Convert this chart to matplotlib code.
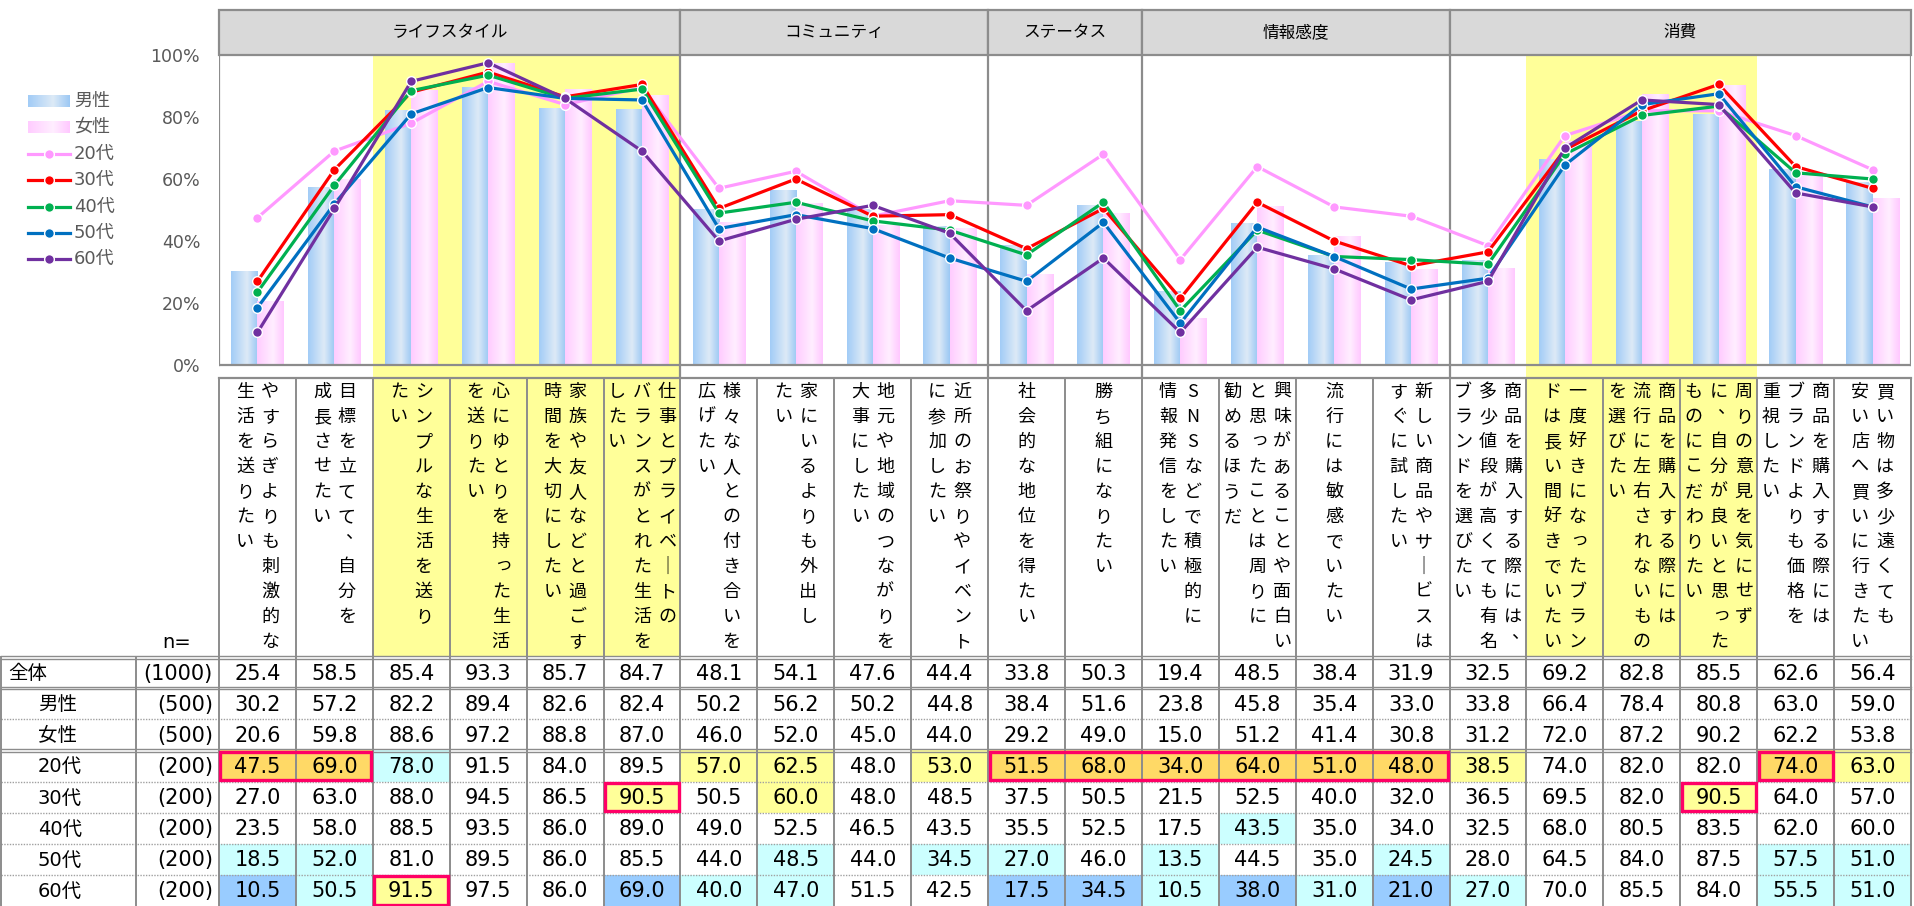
import numpy as np
import matplotlib
matplotlib.use("Agg")
import matplotlib.pyplot as plt
from matplotlib.patches import Rectangle
from matplotlib.colors import LinearSegmentedColormap

plt.rcParams['font.family'] = ['DejaVu Sans', 'Noto Sans CJK JP']
JP = ['Noto Sans CJK JP', 'DejaVu Sans']

# ---------------- data ----------------
groups = ["ライフスタイル", "コミュニティ", "ステータス", "情報感度", "消費"]
group_sizes = [6, 4, 2, 4, 6]

# vertical item labels: text columns listed right-to-left
item_labels = [
    ["やすらぎよりも刺激的な", "生活を送りたい"],
    ["目標を立てて、自分を", "成長させたい"],
    ["シンプルな生活を送り", "たい"],
    ["心にゆとりを持った生活", "を送りたい"],
    ["家族や友人などと過ごす", "時間を大切にしたい"],
    ["仕事とプライベートの", "バランスがとれた生活を", "したい"],
    ["様々な人との付き合いを", "広げたい"],
    ["家にいるよりも外出し", "たい"],
    ["地元や地域のつながりを", "大事にしたい"],
    ["近所のお祭りやイベント", "に参加したい"],
    ["社会的な地位を得たい"],
    ["勝ち組になりたい"],
    ["SNSなどで積極的に", "情報発信をしたい"],
    ["興味があることや面白い", "と思ったことは周りに", "勧めるほうだ"],
    ["流行には敏感でいたい"],
    ["新しい商品やサービスは", "すぐに試したい"],
    ["商品を購入する際には、", "多少値段が高くても有名", "ブランドを選びたい"],
    ["一度好きになったブラン", "ドは長い間好きでいたい"],
    ["商品を購入する際には", "流行に左右されないもの", "を選びたい"],
    ["周りの意見を気にせず", "に、自分が良いと思った", "ものにこだわりたい"],
    ["商品を購入する際には", "ブランドよりも価格を", "重視したい"],
    ["買い物は多少遠くても", "安い店へ買いに行きたい"],
]
highlight_items = [2, 3, 4, 5, 17, 18, 19]

row_names = ["全体", "男性", "女性", "20代", "30代", "40代", "50代", "60代"]
row_n = [1000, 500, 500, 200, 200, 200, 200, 200]

total = [25.4, 58.5, 85.4, 93.3, 85.7, 84.7, 48.1, 54.1, 47.6, 44.4, 33.8, 50.3,
         19.4, 48.5, 38.4, 31.9, 32.5, 69.2, 82.8, 85.5, 62.6, 56.4]
male = [30.2, 57.2, 82.2, 89.4, 82.6, 82.4, 50.2, 56.2, 50.2, 44.8, 38.4, 51.6,
        23.8, 45.8, 35.4, 33.0, 33.8, 66.4, 78.4, 80.8, 63.0, 59.0]
female = [20.6, 59.8, 88.6, 97.2, 88.8, 87.0, 46.0, 52.0, 45.0, 44.0, 29.2, 49.0,
          15.0, 51.2, 41.4, 30.8, 31.2, 72.0, 87.2, 90.2, 62.2, 53.8]
age20 = [47.5, 69.0, 78.0, 91.5, 84.0, 89.5, 57.0, 62.5, 48.0, 53.0, 51.5, 68.0,
         34.0, 64.0, 51.0, 48.0, 38.5, 74.0, 82.0, 82.0, 74.0, 63.0]
age30 = [27.0, 63.0, 88.0, 94.5, 86.5, 90.5, 50.5, 60.0, 48.0, 48.5, 37.5, 50.5,
         21.5, 52.5, 40.0, 32.0, 36.5, 69.5, 82.0, 90.5, 64.0, 57.0]
age40 = [23.5, 58.0, 88.5, 93.5, 86.0, 89.0, 49.0, 52.5, 46.5, 43.5, 35.5, 52.5,
         17.5, 43.5, 35.0, 34.0, 32.5, 68.0, 80.5, 83.5, 62.0, 60.0]
age50 = [18.5, 52.0, 81.0, 89.5, 86.0, 85.5, 44.0, 48.5, 44.0, 34.5, 27.0, 46.0,
         13.5, 44.5, 35.0, 24.5, 28.0, 64.5, 84.0, 87.5, 57.5, 51.0]
age60 = [10.5, 50.5, 91.5, 97.5, 86.0, 69.0, 40.0, 47.0, 51.5, 42.5, 17.5, 34.5,
         10.5, 38.0, 31.0, 21.0, 27.0, 70.0, 85.5, 84.0, 55.5, 51.0]

# emphasised cells (row name, first column, last column)
red_boxes = [("20代", 0, 1), ("20代", 10, 15), ("20代", 20, 20),
             ("30代", 5, 5), ("30代", 19, 19), ("60代", 2, 2)]

age_series = [("20代", age20, '#FF99FF'), ("30代", age30, '#FF0000'),
              ("40代", age40, '#00B050'), ("50代", age50, '#0070C0'),
              ("60代", age60, '#7030A0')]

# ---------------- geometry (pixels) ----------------
W, H = 1915, 906
X0, XR = 219, 1911
NC = len(total)
CW = (XR - X0) / NC
Y_HEAD_T, Y_PLOT_T, Y_ZERO, Y_LAB_T, Y_TAB_T = 10, 55, 365, 378, 657
RH = (H - Y_TAB_T) / len(row_names)
GRAY = '#8C8C8C'

fig = plt.figure(figsize=(W / 100, H / 100), dpi=100)
fig.patch.set_facecolor('white')

# ---------------- chart axes ----------------
ax = fig.add_axes([X0 / W, 1 - Y_LAB_T / H, (XR - X0) / W, (Y_LAB_T - Y_PLOT_T) / H])
ybot = -(Y_LAB_T - Y_ZERO) / (Y_ZERO - Y_PLOT_T) * 100
x = np.arange(NC)

blue_cmap = LinearSegmentedColormap.from_list('bl', [(0, '#A2CCF6'), (0.6, '#DDEAF7'), (1, '#9CC8F4')])
pink_cmap = LinearSegmentedColormap.from_list('pk', [(0, '#FFCCFF'), (0.6, '#FFEEFF'), (1, '#FFC8FF')])
grad = np.linspace(0, 1, 64).reshape(1, -1)

for i in highlight_items:
    ax.axvspan(i - 0.5, i + 0.5, color='#FFFF99', lw=0, zorder=0.5)

bw = 0.34
for i in range(NC):
    ax.imshow(grad, extent=(i - bw, i, 0, male[i]), cmap=blue_cmap, aspect='auto',
              interpolation='bilinear', zorder=2)
    ax.imshow(grad, extent=(i, i + bw, 0, female[i]), cmap=pink_cmap, aspect='auto',
              interpolation='bilinear', zorder=2)

ax.plot([-0.5, 21.5], [0, 0], color=GRAY, lw=1.6, zorder=2.5, solid_capstyle='butt')
ax.plot([-0.5, -0.5], [0, 100], color=GRAY, lw=1.6, zorder=2.5)
ax.plot([21.5, 21.5], [0, 100], color=GRAY, lw=1.6, zorder=2.5)
b = 0
for n in group_sizes[:-1]:
    b += n
    ax.axvline(b - 0.5, color=GRAY, lw=1.6, zorder=2.5)

for k, (name, vals, c) in enumerate(age_series):
    ax.plot(x, vals, color=c, lw=2.3, marker='o', ms=7, mfc=c, mec='white',
            mew=1.0, zorder=3 + k * 0.1)

ax.set_xlim(-0.5, NC - 0.5)
ax.set_ylim(ybot, 100)
ax.set_xticks([])
ax.set_yticks(range(0, 101, 20))
ax.set_yticklabels([f"{v}%" for v in range(0, 101, 20)])
ax.tick_params(axis='y', length=0, pad=13.5, labelcolor='#595959', labelsize=12.5)
for s in ax.spines.values():
    s.set_visible(False)

# ---------------- overlay (pixel coords) ----------------
ov = fig.add_axes([0, 0, 1, 1])
ov.set_xlim(0, W)
ov.set_ylim(H, 0)
ov.set_axis_off()
ov.patch.set_alpha(0)

# headers
start = 0
for g, n in zip(groups, group_sizes):
    gx0 = X0 + start * CW
    gx1 = X0 + (start + n) * CW
    ov.add_patch(Rectangle((gx0, Y_HEAD_T), gx1 - gx0, Y_PLOT_T - Y_HEAD_T,
                           fc='#D9D9D9', ec=GRAY, lw=1.6, zorder=2))
    ov.text((gx0 + gx1) / 2, (Y_HEAD_T + Y_PLOT_T) / 2, g, ha='center', va='center',
            fontsize=12, family=JP, color='#000000', zorder=3)
    start += n

# item label area
for i in highlight_items:
    ov.add_patch(Rectangle((X0 + i * CW, Y_LAB_T), CW, Y_TAB_T - Y_LAB_T,
                           fc='#FFFF99', ec='none', zorder=0.5))
ov.plot([X0, XR], [Y_LAB_T, Y_LAB_T], color=GRAY, lw=1.6, zorder=2)
for i in range(NC + 1):
    xb = X0 + i * CW
    ov.plot([xb, xb], [Y_LAB_T, Y_TAB_T], color=GRAY, lw=1.4, zorder=2)
# section dividers in gap between plot and label area
b = 0
for n in group_sizes[:-1]:
    b += n

small = set('っゃゅょャュョァィゥェォッ')
for i, lines in enumerate(item_labels):
    cx = X0 + (i + 0.5) * CW
    nl = len(lines)
    for k, line in enumerate(lines):
        lx = cx + ((nl - 1) / 2 - k) * 25
        for j, ch in enumerate(line):
            cy = 392 + j * 25
            dx = dy = 0
            if ch == 'ー':
                ch = '｜'
            elif ch == '、':
                dx, dy = 7, -9
            elif ch in small:
                dx, dy = 2, -2
            ov.text(lx + dx, cy + dy, ch, ha='center', va='center', fontsize=13,
                    family=JP, color='#000000', zorder=3)

ov.text(177, 643, "n=", ha='center', va='center', fontsize=14, color='#000000')

# legend
leg_y = [101, 127, 154, 180, 207, 233, 259]
ov.imshow(grad, extent=(28, 70, leg_y[0] + 6, leg_y[0] - 6), cmap=blue_cmap,
          aspect='auto', interpolation='bilinear', zorder=3)
ov.imshow(grad, extent=(28, 70, leg_y[1] + 6, leg_y[1] - 6), cmap=pink_cmap,
          aspect='auto', interpolation='bilinear', zorder=3)
ov.text(74, leg_y[0], "男性", ha='left', va='center', fontsize=13, color='#595959')
ov.text(74, leg_y[1], "女性", ha='left', va='center', fontsize=13, color='#595959')
for (name, vals, c), ly in zip(age_series, leg_y[2:]):
    ov.plot([28, 70], [ly, ly], color=c, lw=2.3, zorder=3)
    ov.plot([49], [ly], marker='o', ms=7, mfc=c, mec='white', mew=1.0, zorder=4)
    ov.text(74, ly, name, ha='left', va='center', fontsize=13, color='#595959')

# table
all_rows = [total, male, female, age20, age30, age40, age50, age60]
for r, (name, n, vals) in enumerate(zip(row_names, row_n, all_rows)):
    yt = Y_TAB_T + r * RH
    yc = yt + RH / 2
    for c, v in enumerate(vals):
        fc = None
        if r >= 3:
            d = round(v - total[c], 1)
            if d >= 10:
                fc = '#FFD966'
            elif d >= 5:
                fc = '#FFFF99'
            elif d <= -10:
                fc = '#99CCFF'
            elif d <= -5:
                fc = '#CCFFFF'
        if fc:
            ov.add_patch(Rectangle((X0 + c * CW, yt), CW, RH, fc=fc, ec='none', zorder=1))
        ov.text(X0 + (c + 0.5) * CW, yc + 1, f"{v:.1f}", ha='center', va='center',
                fontsize=15, color='#000000', zorder=3)
    ov.text(8 if r == 0 else 38, yc + 1, name, ha='left', va='center', fontsize=14,
            color='#000000', zorder=3)
    ov.text(213, yc + 1, f"({n})", ha='right', va='center', fontsize=15,
            color='#000000', zorder=3)

# table lines
ov.plot([1, XR], [Y_TAB_T - 1, Y_TAB_T - 1], color=GRAY, lw=1.0, zorder=2)
ov.plot([1, XR], [Y_TAB_T + 1.5, Y_TAB_T + 1.5], color=GRAY, lw=1.0, zorder=2)
for r in range(1, len(row_names)):
    yb = Y_TAB_T + r * RH
    if r in (1, 3):
        ov.plot([1, XR], [yb - 1.2, yb - 1.2], color=GRAY, lw=1.0, zorder=2)
        ov.plot([1, XR], [yb + 1.2, yb + 1.2], color=GRAY, lw=1.0, zorder=2)
    else:
        ov.plot([1, XR], [yb, yb], color='#A0A0A0', lw=1.0, ls=(0, (1, 1)), zorder=2)
for xb in [1, 136] + [X0 + i * CW for i in range(NC + 1)]:
    ov.plot([xb, xb], [Y_TAB_T, H], color=GRAY, lw=1.4, zorder=2)

# emphasis boxes
for name, c0, c1 in red_boxes:
    r = row_names.index(name)
    yt = Y_TAB_T + r * RH
    ov.add_patch(Rectangle((X0 + c0 * CW + 1.5, yt + 1.5), (c1 - c0 + 1) * CW - 3, RH - 3,
                           fc='none', ec='#FF0066', lw=2.4, zorder=4))

ov.set_xlim(0, W)
ov.set_ylim(H, 0)

fig.savefig("out.png", dpi=100, facecolor='white')
